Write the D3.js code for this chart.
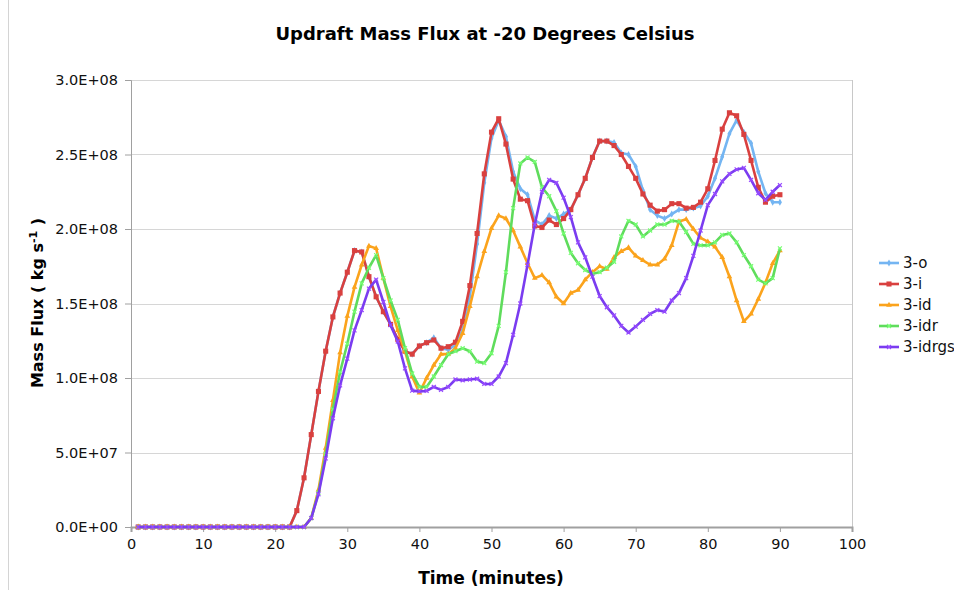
<!DOCTYPE html>
<html>
<head>
<meta charset="utf-8">
<script src="https://cdn.jsdelivr.net/npm/d3@7"></script>
<style>
	body { margin: 0; background: #fff; }
	#chart { width: 954px; height: 594px; }
	text { font-family: "DejaVu Sans", Verdana, sans-serif; }
</style>
</head>
<body>
<div id="chart"></div>
<script>
// Chart data (mass flux in units of 1E+08 kg/s)
var times = d3.range(1, 91);

var flux_o = [0,0,0,0,0,0,0,0,0,0, 0,0,0,0,0,0,0,0,0,0,
	0,0,0.11,0.33,0.62,0.91,1.18,1.41,1.57,1.71,
	1.855,1.846,1.68,1.545,1.445,1.36,1.26,1.18,1.16,1.215,
	1.237,1.27,1.20,1.19,1.22,1.32,1.55,1.90,2.31,2.61,
	2.73,2.62,2.385,2.27,2.23,2.06,2.03,2.09,2.07,2.10,
	2.13,2.23,2.34,2.48,2.59,2.59,2.58,2.51,2.50,2.42,
	2.26,2.13,2.09,2.07,2.10,2.13,2.13,2.14,2.155,2.22,
	2.34,2.485,2.64,2.73,2.65,2.575,2.385,2.24,2.18,2.18];

var flux_i = [0,0,0,0,0,0,0,0,0,0, 0,0,0,0,0,0,0,0,0,0,
	0,0,0.11,0.33,0.62,0.91,1.18,1.41,1.57,1.71,
	1.855,1.846,1.68,1.545,1.445,1.36,1.26,1.18,1.16,1.215,
	1.237,1.255,1.20,1.21,1.24,1.38,1.62,1.97,2.37,2.65,
	2.74,2.57,2.335,2.20,2.19,2.02,2.01,2.06,2.03,2.07,
	2.13,2.23,2.34,2.48,2.59,2.59,2.56,2.50,2.42,2.34,
	2.235,2.16,2.12,2.13,2.17,2.17,2.14,2.145,2.18,2.27,
	2.46,2.67,2.78,2.76,2.635,2.46,2.28,2.18,2.22,2.23];

var flux_id = [0,0,0,0,0,0,0,0,0,0, 0,0,0,0,0,0,0,0,0,0,
	0,0,0,0,0.06,0.25,0.53,0.85,1.17,1.415,
	1.61,1.76,1.886,1.87,1.67,1.48,1.32,1.18,1.01,0.90,
	1.00,1.087,1.16,1.16,1.20,1.30,1.48,1.68,1.85,2.005,
	2.09,2.07,1.99,1.88,1.77,1.67,1.69,1.64,1.545,1.50,
	1.57,1.59,1.66,1.71,1.75,1.73,1.81,1.85,1.875,1.82,
	1.79,1.76,1.76,1.80,1.89,2.05,2.065,2.00,1.94,1.915,
	1.88,1.81,1.68,1.52,1.38,1.43,1.53,1.64,1.77,1.855];

var flux_idr = [0,0,0,0,0,0,0,0,0,0, 0,0,0,0,0,0,0,0,0,0,
	0,0,0,0,0.06,0.23,0.49,0.79,1.04,1.23,
	1.445,1.635,1.74,1.825,1.67,1.52,1.39,1.20,1.03,0.94,
	0.94,1.01,1.087,1.16,1.18,1.20,1.18,1.11,1.10,1.166,
	1.35,1.71,2.14,2.44,2.48,2.45,2.28,2.22,2.12,1.97,
	1.84,1.77,1.725,1.70,1.71,1.74,1.78,1.95,2.055,2.03,
	1.95,1.99,2.03,2.03,2.055,2.05,1.98,1.90,1.89,1.89,
	1.91,1.96,1.97,1.91,1.825,1.75,1.66,1.635,1.67,1.87];

var flux_idrgs = [0,0,0,0,0,0,0,0,0,0, 0,0,0,0,0,0,0,0,0,0,
	0,0,0,0,0.06,0.22,0.46,0.73,0.95,1.13,
	1.32,1.456,1.60,1.66,1.51,1.355,1.245,1.065,0.915,0.91,
	0.913,0.94,0.92,0.94,0.99,0.985,0.99,0.995,0.96,0.96,
	1.01,1.10,1.29,1.50,1.76,2.03,2.25,2.33,2.31,2.21,
	2.08,1.91,1.81,1.68,1.55,1.475,1.42,1.35,1.305,1.345,
	1.39,1.43,1.456,1.445,1.52,1.57,1.67,1.82,1.99,2.16,
	2.235,2.32,2.37,2.40,2.41,2.33,2.24,2.195,2.25,2.295];

var seriesNames = ['3-o', '3-i', '3-id', '3-idr', '3-idrgs'];
var seriesValues = [flux_o, flux_i, flux_id, flux_idr, flux_idrgs];
var seriesColors = ['#74b5f2', '#d9403f', '#fba31c', '#5fdc5c', '#7a3cf0'];

var xTicks = [0, 10, 20, 30, 40, 50, 60, 70, 80, 90, 100];
var yTicks = [0, 0.5, 1.0, 1.5, 2.0, 2.5, 3.0];
var yTickLabels = ['0.0E+00', '5.0E+07', '1.0E+08', '1.5E+08', '2.0E+08', '2.5E+08', '3.0E+08'];

// Sizes
var fullWidth = 954;
var fullHeight = 594;
var margin = {top: 80, right: 102, bottom: 67, left: 131};
var width = fullWidth - margin.left - margin.right;
var height = fullHeight - margin.top - margin.bottom;

var svg = d3.select('#chart')
	.append('svg')
	.attr('width', fullWidth)
	.attr('height', fullHeight);

// outer frame line on the left
svg.append('line')
	.attr('x1', 8.5).attr('x2', 8.5)
	.attr('y1', 0).attr('y2', 590)
	.attr('stroke', '#d4d4d4');

var g = svg.append('g')
	.attr('transform', 'translate(' + margin.left + ',' + margin.top + ')');

// Scales
var xScale = d3.scaleLinear().domain([0, 100]).range([0, width]);
var yScale = d3.scaleLinear().domain([0, 3]).range([height, 0]);

// Gridlines
g.append('g')
	.selectAll('line')
	.data(yTicks.slice(1))
	.enter()
	.append('line')
	.attr('x1', 0)
	.attr('x2', width)
	.attr('y1', function(d) { return Math.round(yScale(d)) + 0.5; })
	.attr('y2', function(d) { return Math.round(yScale(d)) + 0.5; })
	.attr('stroke', '#d6d6d6');

// right border of plot area
g.append('line')
	.attr('x1', width + 0.5).attr('x2', width + 0.5)
	.attr('y1', 0).attr('y2', height)
	.attr('stroke', '#c8c8c8');

// X axis
var xAxis = g.append('g')
	.attr('transform', 'translate(0,' + height + ')')
	.call(d3.axisBottom(xScale).tickValues(xTicks).tickSize(5).tickPadding(7));
xAxis.select('.domain').attr('stroke', '#a0a0a0').attr('stroke-width', 2);
xAxis.selectAll('.tick line').attr('stroke', '#a0a0a0');
xAxis.selectAll('.tick text')
	.attr('font-size', '14.5px')
	.attr('fill', '#111');

// Y axis
var yAxis = g.append('g')
	.call(d3.axisLeft(yScale).tickValues(yTicks).tickSize(6).tickPadding(7)
		.tickFormat(function(d, i) { return yTickLabels[i]; }));
yAxis.select('.domain').attr('stroke', '#a0a0a0');
yAxis.selectAll('.tick line').attr('stroke', '#a0a0a0');
yAxis.selectAll('.tick text')
	.attr('font-size', '14.5px')
	.attr('fill', '#111');

// Marker shapes per series
var markerTypes = [d3.symbolDiamond, d3.symbolSquare, d3.symbolTriangle, d3.symbolTimes, d3.symbolTimes];
var markerSizes = [14, 26, 14, 12, 12];

function drawMarker(sel, i) {
	var sym = d3.symbol().type(markerTypes[i]).size(markerSizes[i]);
	if (i >= 3) {
		sel.attr('d', sym).attr('fill', 'none')
			.attr('stroke', d3.color(seriesColors[i]).brighter(0.6)).attr('stroke-width', 1.2);
	} else {
		sel.attr('d', sym).attr('fill', seriesColors[i]);
	}
}

var line = d3.line()
	.x(function(d, i) { return xScale(times[i]); })
	.y(function(d) { return yScale(d); });

// Lines and markers
seriesValues.forEach(function(vals, s) {
	var sg = g.append('g');
	sg.append('path')
		.datum(vals)
		.attr('d', line)
		.attr('fill', 'none')
		.attr('stroke', seriesColors[s])
		.attr('stroke-width', 2.6)
		.attr('stroke-linejoin', 'round');

	sg.selectAll('path.mk')
		.data(vals)
		.enter()
		.append('path')
		.attr('class', 'mk')
		.attr('transform', function(d, i) { return 'translate(' + xScale(times[i]) + ',' + yScale(d) + ')'; })
		.each(function() { drawMarker(d3.select(this), s); });
});

// Title and axis labels
svg.append('text')
	.attr('x', 485)
	.attr('y', 40)
	.attr('text-anchor', 'middle')
	.attr('font-size', '18px')
	.attr('font-weight', 'bold')
	.text('Updraft Mass Flux at -20 Degrees Celsius');

svg.append('text')
	.attr('x', 491)
	.attr('y', 584)
	.attr('text-anchor', 'middle')
	.attr('font-size', '17px')
	.attr('font-weight', 'bold')
	.text('Time (minutes)');

var yLab = svg.append('text')
	.attr('transform', 'translate(43,303) rotate(-90)')
	.attr('text-anchor', 'middle')
	.attr('font-size', '16px')
	.attr('font-weight', 'bold');
yLab.append('tspan').text('Mass Flux ( kg s');
yLab.append('tspan').attr('dy', -6).attr('font-size', '11px').text('-1');
yLab.append('tspan').attr('dy', 6).text(' )');

// Legend
var legend = svg.append('g');
seriesNames.forEach(function(name, i) {
	var ly = 263 + i * 21;
	legend.append('line')
		.attr('x1', 879).attr('x2', 899)
		.attr('y1', ly).attr('y2', ly)
		.attr('stroke', seriesColors[i])
		.attr('stroke-width', 2.6);
	legend.append('path')
		.attr('transform', 'translate(889,' + ly + ')')
		.each(function() { drawMarker(d3.select(this), i); });
	legend.append('text')
		.attr('x', 903)
		.attr('y', ly + 5)
		.attr('font-size', '15px')
		.attr('fill', '#111')
		.text(name);
});
</script>
</body>
</html>
